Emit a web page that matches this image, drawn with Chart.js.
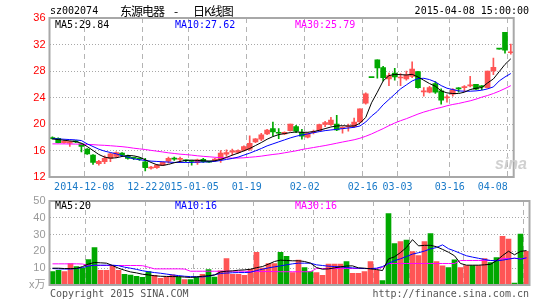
<!DOCTYPE html>
<html>
<head>
<meta charset="utf-8">
<script src="https://cdn.jsdelivr.net/npm/chart.js@4.4.1/dist/chart.umd.min.js"></script>
<style>
body { margin: 0; background: #fff; }
#wrap { position: relative; width: 545px; height: 300px; overflow: hidden; font-family: "DejaVu Sans Mono", monospace; font-size: 10px; }
canvas { position: absolute; left: 0; }
.t { position: absolute; white-space: pre; line-height: 12px; }
.cjk { font: 12px 'Noto Sans CJK SC'; letter-spacing: -1px; line-height: 16px; top: 3px; }
</style>
</head>
<body>
<div id="wrap">
<canvas id="k" width="545" height="200" style="top:0"></canvas>
<canvas id="v" width="545" height="110" style="top:190px"></canvas>
<div class="t" style="left:50px;top:5px">sz002074</div>
<div class="t cjk" style="left:120px">东源电器</div>
<div class="t cjk" style="left:174px">-</div>
<div class="t cjk" style="left:193px">日K线图</div>
<div class="t" style="right:16px;top:5px">2015-04-08 15:00:00</div>
<div class="t" style="left:55px;top:19px;color:#000">MA5:29.84</div>
<div class="t" style="left:175px;top:19px;color:#0000ff">MA10:27.62</div>
<div class="t" style="left:295px;top:19px;color:#ff00ff">MA30:25.79</div>
<div class="t" style="left:55px;top:200px;color:#000">MA5:20</div>
<div class="t" style="left:175px;top:200px;color:#0000ff">MA10:16</div>
<div class="t" style="left:295px;top:200px;color:#ff00ff">MA30:16</div>
<div class="t" style="left:50px;top:288px;color:#555">Copyright 2015 SINA.COM</div>
<div class="t" style="right:16px;top:288px;color:#555">http://finance.sina.com.cn</div>
<div class="t" style="left:495px;top:155px;font:italic bold 16px 'Liberation Sans';color:#d0d0d0;line-height:18px">sina</div>
</div>
<script>
var dates = ['2014-11-28','2014-12-01','2014-12-02','2014-12-03','2014-12-04','2014-12-05','2014-12-08','2014-12-09','2014-12-10','2014-12-11',
  '2014-12-12','2014-12-15','2014-12-16','2014-12-17','2014-12-18','2014-12-19','2014-12-22','2014-12-23','2014-12-24','2014-12-25',
  '2014-12-26','2014-12-29','2014-12-30','2014-12-31','2015-01-05','2015-01-06','2015-01-07','2015-01-08','2015-01-09','2015-01-12',
  '2015-01-13','2015-01-14','2015-01-15','2015-01-16','2015-01-19','2015-01-20','2015-01-21','2015-01-22','2015-01-23','2015-01-26',
  '2015-01-27','2015-01-28','2015-01-29','2015-01-30','2015-02-02','2015-02-03','2015-02-04','2015-02-05','2015-02-06','2015-02-09',
  '2015-02-10','2015-02-11','2015-02-12','2015-02-13','2015-02-16','2015-02-17','2015-02-25','2015-02-26','2015-02-27','2015-03-02',
  '2015-03-03','2015-03-04','2015-03-05','2015-03-06','2015-03-09','2015-03-10','2015-03-11','2015-03-12','2015-03-13','2015-03-16',
  '2015-03-17','2015-03-18','2015-03-19','2015-03-20','2015-03-23','2015-03-24','2015-03-25','2015-03-26','2015-03-27','2015-04-08'];

var open = [17.95,17.85,17.2,17.1,17.4,17.0,16.2,15.3,14.0,14.3,
  14.8,15.1,15.6,15.2,14.9,14.75,14.3,13.35,13.4,13.8,
  14.4,14.75,14.65,14.55,14.4,14.2,14.65,14.3,14.5,14.6,
  15.45,15.75,15.7,16.0,16.2,17.3,17.7,18.5,19.3,18.65,
  18.5,19.0,19.6,18.75,18.0,18.7,19.0,19.95,19.9,20.0,
  19.35,19.55,19.6,20.3,23.15,27.0,29.7,28.5,26.8,27.7,
  26.95,26.8,27.2,27.9,24.85,24.8,26.1,25.0,23.95,24.5,
  25.35,25.5,25.75,26.0,25.65,25.5,28.0,31.3,33.85,30.75];
var close = [17.8,17.2,17.4,17.35,17.3,16.6,15.5,14.2,14.35,14.8,
  15.5,15.7,15.3,14.8,14.8,14.7,13.4,13.45,13.8,14.2,
  14.8,14.7,14.7,14.45,14.35,14.6,14.3,14.25,14.7,15.6,
  15.7,15.95,16.0,16.6,17.1,17.75,18.35,19.1,18.8,18.6,
  18.75,20.0,18.9,18.15,18.6,18.8,19.9,20.2,20.6,19.1,
  19.5,19.65,20.3,22.3,24.55,27.0,28.45,27.0,27.3,27.1,
  27.0,27.4,28.3,25.5,24.95,25.5,24.8,23.6,24.05,25.2,
  25.3,25.6,25.85,25.25,25.6,28.0,28.55,31.3,31.15,30.85];
var high = [18.05,17.9,17.5,17.4,17.5,17.1,16.3,15.4,14.5,15.2,
  15.6,15.8,15.7,15.3,15.0,14.9,14.8,13.6,13.9,14.3,
  15.0,15.0,15.0,14.6,14.5,14.7,14.8,14.35,14.8,16.0,
  16.1,16.2,16.1,16.7,18.2,17.8,18.6,19.2,20.3,19.3,
  18.8,20.0,19.8,19.2,18.7,19.1,20.0,20.4,21.0,21.3,
  19.6,20.0,20.9,22.3,24.7,27.0,29.7,28.7,27.7,28.4,
  27.6,28.0,29.4,27.95,25.5,25.7,26.4,25.3,24.4,25.35,
  25.5,25.8,27.2,26.0,25.8,28.0,29.95,31.3,33.85,32.05];
var low = [17.7,17.15,17.1,16.6,17.2,15.8,15.4,13.9,13.8,14.0,
  14.3,14.9,15.2,14.7,14.6,14.5,12.9,13.2,13.3,13.7,
  14.1,14.5,14.2,14.3,13.8,13.9,14.2,14.2,14.4,14.2,
  15.1,15.3,15.6,15.9,16.0,17.2,17.5,18.4,18.2,17.8,
  18.4,18.9,18.7,17.7,17.9,18.5,18.9,19.6,19.8,19.0,
  18.6,18.9,19.5,20.2,23.0,27.0,26.9,26.5,25.8,26.6,
  25.8,26.6,27.0,25.4,24.2,24.7,24.6,23.0,23.3,24.2,
  24.8,24.9,25.6,25.2,25.2,25.4,27.45,31.3,30.7,30.55];

var ma5 = [17.75,17.65,17.55,17.45,17.35,17.1,16.6,16.0,15.4,15.0,
  14.85,14.9,15.1,15.25,15.2,15.0,14.6,14.2,13.85,13.75,
  13.9,14.15,14.35,14.5,14.55,14.5,14.45,14.4,14.45,14.65,
  14.95,15.3,15.6,15.95,16.3,16.75,17.2,17.7,18.1,18.4,
  18.55,18.7,18.8,18.75,18.75,18.85,19.05,19.3,19.55,19.7,
  19.75,19.7,19.7,20.1,21.0,23.2,24.8,26.5,27.3,27.5,
  27.45,27.4,27.5,27.1,26.6,26.1,25.7,25.0,24.7,24.6,
  24.6,24.8,25.2,25.4,25.5,26.2,26.8,27.9,29.0,29.84];
var ma10 = [17.8,17.75,17.7,17.65,17.6,17.5,17.0,16.6,16.2,15.9,
  15.7,15.5,15.2,15.0,14.75,14.6,14.5,14.4,14.35,14.3,
  14.25,14.2,14.2,14.2,14.2,14.25,14.25,14.3,14.35,14.5,
  14.65,14.8,15.0,15.3,15.6,15.95,16.3,16.7,17.0,17.3,
  17.6,17.9,18.15,18.35,18.5,18.7,18.85,19.0,19.1,19.2,
  19.3,19.4,19.5,19.7,20.3,21.2,21.9,22.9,23.7,24.5,
  25.3,25.9,26.5,26.85,26.9,26.7,26.35,25.8,25.4,25.2,
  25.0,24.95,24.95,25.0,25.1,25.3,25.6,26.5,27.1,27.62];
var ma30 = [17.0,17.0,17.0,16.98,16.97,16.95,16.92,16.88,16.82,16.78,
  16.72,16.65,16.58,16.48,16.35,16.25,16.15,16.02,15.9,15.78,
  15.65,15.55,15.45,15.38,15.3,15.2,15.12,15.05,14.98,14.92,
  14.88,14.85,14.86,14.9,14.98,15.05,15.15,15.28,15.4,15.5,
  15.65,15.8,15.95,16.15,16.3,16.45,16.6,16.75,16.92,17.1,
  17.28,17.45,17.62,17.85,18.15,18.5,18.9,19.3,19.75,20.15,
  20.5,20.8,21.15,21.5,21.8,22.05,22.3,22.5,22.75,22.95,
  23.1,23.3,23.5,23.75,24.05,24.3,24.6,24.95,25.35,25.79];

var vol = [8.0,8.8,8.0,12.8,11.0,10.0,15.2,22.3,8.8,8.8,
  11.2,8.8,6.3,5.9,5.1,4.5,8.0,5.7,4.0,4.7,
  6.1,4.7,3.3,3.3,4.5,6.3,9.2,4.7,8.4,15.7,
  6.4,6.4,5.7,9.4,19.4,10.0,12.8,12.8,19.4,17.0,
  7.4,14.8,10.4,8.0,7.4,5.7,12.4,12.4,12.4,14.0,
  6.9,6.9,8.0,14.0,8.8,2.7,42.5,24.7,25.9,26.7,
  19.9,17.5,25.9,30.6,14.0,11.4,10.4,15.0,10.4,11.5,
  11.5,11.5,15.7,13.3,16.3,28.9,27.3,1.1,30.3,20.0];
var volMa5 = [10.0,10.0,9.8,9.8,9.8,11.0,12.5,13.4,13.2,13.0,
  11.6,10.0,8.8,7.8,7.2,6.4,6.0,5.5,5.2,5.1,
  5.0,5.0,4.7,4.5,4.8,5.2,5.5,6.0,7.8,8.2,
  8.4,8.8,9.0,9.4,10.3,11.0,12.4,14.0,14.8,14.6,
  14.4,14.4,14.0,13.0,10.4,9.4,9.6,10.2,10.8,11.3,
  11.4,10.2,10.0,9.6,9.2,8.6,15.5,16.8,19.3,22.4,
  27.0,23.3,23.6,23.6,22.8,21.2,19.5,17.4,12.8,11.8,
  11.8,11.8,12.0,12.3,14.5,17.5,20.1,18.0,20.0,20.5];
var volMa10 = [9.8,9.6,9.5,9.5,9.8,10.4,11.3,11.8,11.8,11.8,
  11.8,11.5,10.6,10.0,9.3,8.5,7.9,7.4,7.0,6.5,
  6.0,5.6,5.2,5.0,4.9,4.8,5.2,6.0,6.9,7.1,
  7.3,7.4,7.4,7.6,8.6,9.4,10.2,10.8,11.4,12.0,
  12.6,13.0,13.0,13.0,12.0,11.6,11.2,11.0,10.8,10.4,
  10.2,10.0,9.8,9.8,10.0,11.0,12.8,14.5,15.6,17.0,
  18.4,19.2,20.2,21.5,22.3,23.9,21.6,20.3,18.8,17.4,
  16.6,15.9,15.2,14.6,14.4,14.8,15.4,16.0,15.4,16.2];
var volMa30 = [12.6,12.6,12.6,12.6,12.6,12.5,11.6,11.6,11.6,11.6,
  11.6,11.6,11.6,11.6,11.6,11.5,10.6,9.6,9.6,9.6,
  9.6,9.6,9.5,8.2,8.2,8.2,8.2,8.2,8.2,8.2,
  8.2,8.2,8.2,8.0,8.0,8.0,8.0,8.0,7.9,7.9,
  7.9,7.9,7.9,7.9,9.8,9.8,9.8,9.8,9.8,9.8,
  9.8,9.8,9.8,9.8,9.8,10.5,12.8,12.8,12.8,12.8,
  12.8,12.8,12.8,12.8,12.8,12.8,12.8,12.8,14.6,14.6,
  14.6,14.6,14.6,14.6,14.6,15.8,15.8,15.8,15.8,15.8];

var tickDates = ['2014-12-08','2014-12-22','2015-01-05','2015-01-19','2015-02-02','2015-02-16','2015-03-03','2015-03-16','2015-04-08'];
var tickText = ['2014-12-08','12-22','2015-01-05','01-19','02-02','02-16','03-03','03-16','04-08'];
var priceTicks = [12, 16, 20, 24, 28, 32, 36];
var volTicks = [0, 10, 20, 30, 40, 50];

var upColor = '#ff5555';
var downColor = '#00a800';
var candleColor = close.map(function (c, i) { return c > open[i] ? upColor : downColor; });

var boxPlugin = {
  id: 'box',
  afterDatasetsDraw: function (chart) {
    var a = chart.chartArea, c = chart.ctx;
    c.save();
    c.strokeStyle = '#a8a8a8';
    c.lineWidth = 2;
    c.strokeRect(a.left, a.top, a.right - a.left, a.bottom - a.top);
    c.restore();
  }
};

function xGridColor(ctx) {
  return tickDates.indexOf(dates[ctx.index]) >= 0 ? '#b4b4b4' : 'rgba(0,0,0,0)';
}

function maLine(data, color) {
  return { type: 'line', data: data, borderColor: color, borderWidth: 1, pointRadius: 0, tension: 0, order: 0 };
}

var mono = { family: 'DejaVu Sans Mono', size: 10 };

new Chart(document.getElementById('k'), {
  type: 'bar',
  data: {
    labels: dates,
    datasets: [
      maLine(ma5, '#000000'),
      maLine(ma10, '#0000ff'),
      maLine(ma30, '#ff00ff'),
      {
        data: open.map(function (o, i) { return [o, close[i]]; }),
        backgroundColor: candleColor, barThickness: 5, minBarLength: 1, grouped: false, order: 1
      },
      {
        data: low.map(function (l, i) { return [l, high[i]]; }),
        backgroundColor: candleColor, barThickness: 1, grouped: false, order: 2
      }
    ]
  },
  options: {
    responsive: false,
    animation: false,
    events: [],
    layout: { padding: { top: 18, right: 15.5, left: 0, bottom: 0 } },
    plugins: { legend: { display: false }, tooltip: { enabled: false } },
    scales: {
      x: {
        offset: true,
        grid: { offset: true, drawTicks: false, color: xGridColor },
        border: { display: false, dash: [5, 4] },
        ticks: {
          autoSkip: false, maxRotation: 0, padding: 4, labelOffset: -3,
          color: '#1a7ac8', font: mono,
          callback: function (v, i) {
            var k = tickDates.indexOf(dates[i]);
            if (k < 0) return '';
            return k === tickText.length - 1 ? tickText[k] + '     ' : tickText[k];
          }
        },
        afterFit: function (s) { s.height = 23; }
      },
      y: {
        min: priceTicks[0], max: priceTicks[priceTicks.length - 1],
        grid: { color: '#a8a8a8', drawTicks: false },
        border: { display: false, dash: [1, 2] },
        ticks: { stepSize: priceTicks[1] - priceTicks[0], color: '#ff0000', padding: 4, font: { family: 'Liberation Sans', size: 11 } },
        afterFit: function (s) { s.width = 49.5; }
      }
    }
  },
  plugins: [boxPlugin]
});

new Chart(document.getElementById('v'), {
  type: 'bar',
  data: {
    labels: dates,
    datasets: [
      maLine(volMa5, '#000000'),
      maLine(volMa10, '#0000ff'),
      maLine(volMa30, '#ff00ff'),
      { data: vol, backgroundColor: candleColor, barThickness: 5, grouped: false, order: 1 }
    ]
  },
  options: {
    responsive: false,
    animation: false,
    events: [],
    layout: { padding: { top: 11, right: 15.5, left: 0, bottom: 0 } },
    plugins: { legend: { display: false }, tooltip: { enabled: false } },
    scales: {
      x: {
        offset: true,
        grid: { offset: true, drawTicks: false, color: xGridColor },
        border: { display: false, dash: [5, 4] },
        ticks: { display: false },
        afterFit: function (s) { s.height = 15; }
      },
      y: {
        min: volTicks[0], max: volTicks[volTicks.length - 1],
        grid: { color: '#a8a8a8', drawTicks: false },
        border: { display: false, dash: [1, 2] },
        ticks: {
          stepSize: volTicks[1] - volTicks[0], color: '#999999', padding: 4,
          font: { family: "'Liberation Sans', 'Noto Sans CJK SC'", size: 11 },
          callback: function (v) { return v === 0 ? 'x万' : v; }
        },
        afterFit: function (s) { s.width = 49.5; }
      }
    }
  },
  plugins: [boxPlugin]
});
</script>
</body>
</html>
